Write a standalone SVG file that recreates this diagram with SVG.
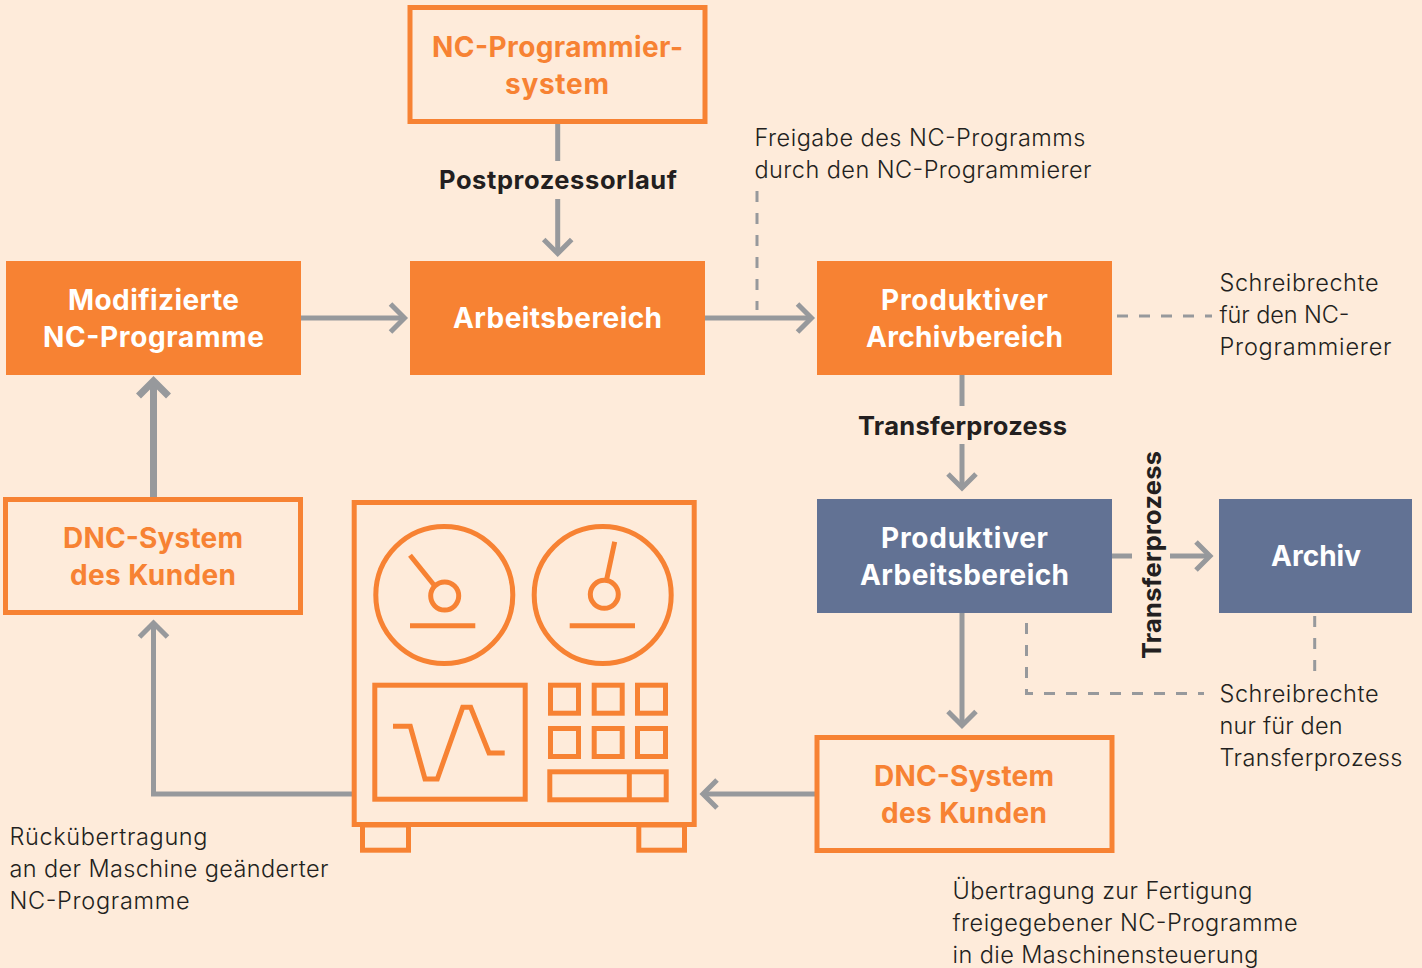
<svg xmlns="http://www.w3.org/2000/svg" width="1422" height="968" viewBox="0 0 1422 968">
<style>
.bg{fill:#FEEBDA}
.fo{fill:#F78233}
.fb{fill:#627294}
.ol{fill:none;stroke:#F78233;stroke-width:5}
.t{font-family:Inter,"Open Sans","Liberation Sans",sans-serif;font-weight:700;font-size:28px;text-anchor:middle}
.w{fill:#FFFFFF}
.o{fill:#F78233}
.k{fill:#231F20;font-size:25.500px}
.n{font-family:Inter,"Open Sans","Liberation Sans",sans-serif;font-weight:300;font-size:23.500px;fill:#231F20}
.c{fill:none;stroke:#97999C;stroke-width:5}
.d{fill:none;stroke:#97999C;stroke-width:3;stroke-dasharray:11 11}
.ih{fill:none;stroke:#97999C;stroke-width:5;stroke-miterlimit:10}
</style>
<defs>
<marker id="a" markerUnits="userSpaceOnUse" markerWidth="40" markerHeight="40" refX="20" refY="20" orient="auto" overflow="visible"><path d="M6,6 L20,20 L6,34" class="ih"/></marker>
<marker id="b" markerUnits="userSpaceOnUse" markerWidth="50" markerHeight="50" refX="25" refY="25" orient="auto" overflow="visible"><path d="M10,10 L25,25 L10,40" fill="none" stroke="#97999C" stroke-width="7" stroke-miterlimit="10"/></marker>
</defs>
<rect class="bg" width="1422" height="968"/>
<g id="connectors">
<path class="c" d="M557.7,124V161"/>
<path class="c" d="M557.7,199V253.500" marker-end="url(#a)"/>
<path class="c" d="M301,318H404.500" marker-end="url(#a)"/>
<path class="c" d="M705,318H811.500" marker-end="url(#a)"/>
<path class="c" d="M962,375V406"/>
<path class="c" d="M962,444V488" marker-end="url(#a)"/>
<path class="c" d="M962,613V725.500" marker-end="url(#a)"/>
<path class="c" d="M1112,556H1132"/>
<path class="c" d="M1170,556H1210" marker-end="url(#a)"/>
<path class="c" d="M815,794H703" marker-end="url(#a)"/>
<path class="c" d="M353,794H153.500V623" marker-end="url(#a)"/>
<path fill="none" stroke="#97999C" stroke-width="7" d="M153.500,497V381" marker-end="url(#b)"/>
<path class="d" d="M757,191V310"/>
<path class="d" d="M1117,316H1212"/>
<path class="d" d="M1314.700,616V671"/>
<path class="d" d="M1026.500,623V693.500H1204"/>
</g>
<g id="nc-programmiersystem"><rect class="ol" x="410" y="7.500" width="295" height="114"/><text class="t o" x="557.500" y="57" textLength="251">NC-Programmier-</text><text class="t o" x="557" y="94" textLength="104">system</text></g>
<g id="arbeitsbereich"><rect class="fo" x="410" y="261" width="295" height="114"/><text class="t w" x="557.500" y="328" textLength="209">Arbeitsbereich</text></g>
<g id="modifizierte"><rect class="fo" x="6" y="261" width="295" height="114"/><text class="t w" x="153.500" y="310" textLength="171">Modifizierte</text><text class="t w" x="153.500" y="347" textLength="221">NC-Programme</text></g>
<g id="produktiver-archivbereich"><rect class="fo" x="817" y="261" width="295" height="114"/><text class="t w" x="964.500" y="310" textLength="167">Produktiver</text><text class="t w" x="964.500" y="347" textLength="197">Archivbereich</text></g>
<g id="produktiver-arbeitsbereich"><rect class="fb" x="817" y="499" width="295" height="114"/><text class="t w" x="964.500" y="548" textLength="167">Produktiver</text><text class="t w" x="964.500" y="585" textLength="209">Arbeitsbereich</text></g>
<g id="archiv"><rect class="fb" x="1219" y="499" width="193" height="114"/><text class="t w" x="1316" y="566" textLength="90">Archiv</text></g>
<g id="dnc-links"><rect class="ol" x="5.500" y="499.500" width="295" height="113"/><text class="t o" x="153" y="548" textLength="180">DNC-System</text><text class="t o" x="153" y="585" textLength="166">des Kunden</text></g>
<g id="dnc-rechts"><rect class="ol" x="817" y="737.500" width="295" height="113"/><text class="t o" x="964" y="786" textLength="180">DNC-System</text><text class="t o" x="964" y="823" textLength="166">des Kunden</text></g>
<g id="maschine" fill="none" stroke="#F78233" stroke-width="5">
<rect x="354.200" y="502.500" width="340" height="322"/>
<circle cx="444.300" cy="595" r="68.500"/><circle cx="602.700" cy="595" r="68.500"/>
<circle cx="444.700" cy="596" r="14"/><circle cx="604.300" cy="594.300" r="14"/>
<path d="M410,555.300L434,585M614.700,541.700L606.700,579.300M410,625.700H475.300M569.700,625.700H635"/>
<rect x="374.800" y="685.200" width="150.400" height="114"/>
<path d="M393,726.300H410.300L425,779H437.300L462.700,707.300H470.700L489,753H504.700"/>
<rect x="550.500" y="685.200" width="28" height="28"/><rect x="594.200" y="685.200" width="28" height="28"/><rect x="637.500" y="685.200" width="28" height="28"/>
<rect x="550.500" y="728.500" width="28" height="28"/><rect x="594.200" y="728.500" width="28" height="28"/><rect x="637.500" y="728.500" width="28" height="28"/>
<rect x="549.800" y="771.800" width="116.400" height="28"/><path d="M629.300,771.800V799.800"/>
<rect x="362.500" y="825" width="46" height="25.200"/><rect x="638.800" y="825" width="45.700" height="25.200"/>
</g>
<g id="labels">
<text class="t k" x="558" y="189" textLength="238">Postprozessorlauf</text>
<text class="t k" x="962.500" y="435" textLength="209">Transferprozess</text>
<text class="t k" transform="translate(1161,555) rotate(-90)" textLength="208">Transferprozess</text>
<text class="n" x="754.500" y="146" textLength="331">Freigabe des NC-Programms</text>
<text class="n" x="754.500" y="178" textLength="337">durch den NC-Programmierer</text>
<text class="n" x="1219.500" y="291" textLength="159">Schreibrechte</text>
<text class="n" x="1219.500" y="323" textLength="130">für den NC-</text>
<text class="n" x="1219.500" y="355" textLength="172">Programmierer</text>
<text class="n" x="1219.500" y="702" textLength="159">Schreibrechte</text>
<text class="n" x="1219.500" y="734" textLength="123">nur für den</text>
<text class="n" x="1219.500" y="766" textLength="183">Transferprozess</text>
<text class="n" x="9.500" y="845" textLength="198">Rückübertragung</text>
<text class="n" x="9.500" y="877" textLength="319">an der Maschine geänderter</text>
<text class="n" x="9.500" y="909" textLength="180">NC-Programme</text>
<text class="n" x="952.500" y="899" textLength="300">Übertragung zur Fertigung</text>
<text class="n" x="952.500" y="931" textLength="345">freigegebener NC-Programme</text>
<text class="n" x="952.500" y="963" textLength="306">in die Maschinensteuerung</text>
</g>
</svg>
